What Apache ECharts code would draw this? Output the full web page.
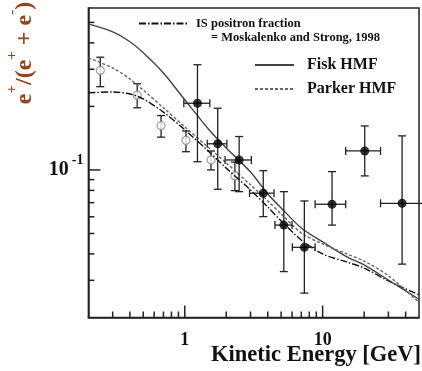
<!DOCTYPE html>
<html>
<head>
<meta charset="utf-8">
<script src="https://cdn.jsdelivr.net/npm/echarts@6/dist/echarts.min.js"></script>
<style>html,body{margin:0;padding:0;background:#fff;}#c{width:422px;height:371px;}</style>
</head>
<body>
<div id="c"></div>
<script>
// ---- data ----
const energies = [0.2, 0.3, 0.4, 0.5, 0.7, 1, 1.5, 2, 3, 4, 5, 7, 10, 15, 20, 30, 50];
const fiskHMF   = [0.492, 0.451, 0.405, 0.359, 0.288, 0.215, 0.155, 0.127, 0.0978, 0.0769, 0.0661, 0.0531, 0.0456, 0.0387, 0.0355, 0.0301, 0.0244];
const parkerHMF = [0.340, 0.304, 0.270, 0.239, 0.197, 0.160, 0.127, 0.108, 0.0849, 0.0713, 0.0619, 0.0503, 0.0446, 0.0400, 0.0370, 0.0315, 0.0236];
const isFraction = [0.232, 0.234, 0.229, 0.217, 0.188, 0.155, 0.122, 0.102, 0.0804, 0.0668, 0.0573, 0.0466, 0.0400, 0.0366, 0.0343, 0.0298, 0.0256];

const openE  = [0.244, 0.452, 0.673, 1.02, 1.55, 2.31];
const openF  = [0.296, 0.226, 0.162, 0.138, 0.1115, 0.0937];
const openLo = [0.248, 0.197, 0.143, 0.122, 0.100, 0.0798];
const openHi = [0.342, 0.256, 0.181, 0.153, 0.123, 0.109];

const filledE   = [1.236, 1.734, 2.48, 3.71, 5.23, 7.37, 11.7, 20.2, 37.7];
const filledF   = [0.207, 0.133, 0.1115, 0.0776, 0.0548, 0.0430, 0.0688, 0.123, 0.0695];
const filledLo  = [0.1094, 0.0810, 0.0789, 0.0601, 0.0330, 0.0261, 0.0548, 0.0937, 0.0358];
const filledHi  = [0.315, 0.196, 0.144, 0.0992, 0.0789, 0.0713, 0.0982, 0.1616, 0.145];
const filledELo = [0.984, 1.456, 1.96, 2.95, 4.51, 6.03, 8.82, 14.7, 26.3];
const filledEHi = [1.52, 2.02, 3.04, 4.44, 6.0, 8.82, 14.7, 26.3, 60];

const xMajorTicks = [1, 10];
const xMinorTicks = [0.3, 0.4, 0.5, 0.6, 0.7, 0.8, 0.9, 2, 3, 4, 5, 6, 7, 8, 9, 20, 30, 40];
const yMajorTicks = [0.1];
const yMinorTicks = [0.03, 0.04, 0.05, 0.06, 0.07, 0.08, 0.09, 0.2, 0.3, 0.4, 0.5];

const X_MIN = 0.2, X_MAX = 50, Y_MIN = 0.02, Y_MAX = 0.585;

// ---- chart ----
const SERIF = '"Liberation Serif", "DejaVu Serif", serif';
const chart = echarts.init(document.getElementById('c'), null, {renderer: 'canvas'});

function errRender(params, api) {
  const x = api.value(0), y = api.value(1);
  const c = api.coord([x, y]);
  const pLo = api.coord([x, api.value(2)]);
  const pHi = api.coord([x, api.value(3)]);
  const st = {stroke: '#222', lineWidth: 1.3};
  const ch = [
    {type: 'line', shape: {x1: c[0], y1: pLo[1], x2: c[0], y2: pHi[1]}, style: st},
    {type: 'line', shape: {x1: c[0] - 4, y1: pLo[1], x2: c[0] + 4, y2: pLo[1]}, style: st},
    {type: 'line', shape: {x1: c[0] - 4, y1: pHi[1], x2: c[0] + 4, y2: pHi[1]}, style: st}
  ];
  const xlo = api.value(4), xhi = api.value(5);
  if (!isNaN(xlo) && !isNaN(xhi)) {
    const l = api.coord([xlo, y]), r = api.coord([xhi, y]);
    ch.push({type: 'line', shape: {x1: l[0], y1: c[1], x2: r[0], y2: c[1]}, style: st});
    ch.push({type: 'line', shape: {x1: l[0], y1: c[1] - 4, x2: l[0], y2: c[1] + 4}, style: st});
    ch.push({type: 'line', shape: {x1: r[0], y1: c[1] - 4, x2: r[0], y2: c[1] + 4}, style: st});
  }
  return {type: 'group', children: ch};
}

function xTickRender(params, api) {
  const cs = params.coordSys;
  const px = api.coord([api.value(0), 0.1])[0];
  const len = api.value(2) ? 12 : 6;
  const yb = cs.y + cs.height;
  return {type: 'line', shape: {x1: px, y1: yb, x2: px, y2: yb - len}, style: {stroke: '#222', lineWidth: 1.5}};
}
function yTickRender(params, api) {
  const cs = params.coordSys;
  const py = api.coord([1, api.value(1)])[1];
  const len = api.value(2) ? 12 : 6;
  return {type: 'line', shape: {x1: cs.x, y1: py, x2: cs.x + len, y2: py}, style: {stroke: '#222', lineWidth: 1.5}};
}

const isPow10 = v => Math.abs(Math.log10(v) - Math.round(Math.log10(v))) < 1e-6;
const legendCommon = {padding: 0, itemHeight: 14, itemStyle: {opacity: 0}, selectedMode: false};

const option = {
  animation: false,
  backgroundColor: '#fff',
  grid: {left: 88.4, right: -4.6, top: 8, bottom: 53.5, show: true, borderColor: '#222', borderWidth: 1.5, backgroundColor: 'transparent'},
  xAxis: {
    type: 'log', min: X_MIN, max: X_MAX, logBase: 10,
    axisLine: {show: true, lineStyle: {color: '#222', width: 1.5}},
    axisTick: {show: false}, splitLine: {show: false}, minorTick: {show: false},
    axisLabel: {
      margin: 14, color: '#111', fontFamily: SERIF, fontWeight: 'bold', fontSize: 18,
      formatter: v => (isPow10(v) && (Math.round(v) === 1 || Math.round(v) === 10)) ? String(Math.round(v)) : ''
    }
  },
  yAxis: {
    type: 'log', min: Y_MIN, max: Y_MAX, logBase: 10,
    axisLine: {show: true, lineStyle: {color: '#222', width: 1.5}},
    axisTick: {show: false}, splitLine: {show: false}, minorTick: {show: false},
    axisLabel: {
      margin: 5,
      formatter: v => (isPow10(v) && Math.abs(v - 0.1) < 1e-9) ? '{b|10}{s|-1}' : '',
      rich: {
        b: {fontFamily: SERIF, fontWeight: 'bold', fontSize: 20, color: '#111', lineHeight: 34, verticalAlign: 'middle'},
        s: {fontFamily: SERIF, fontWeight: 'bold', fontSize: 14, color: '#111', lineHeight: 14, verticalAlign: 'top', padding: [0, 0, 0, 3]}
      }
    }
  },
  legend: [
    Object.assign({data: ['IS positron fraction'], left: 138, top: 17, itemWidth: 50,
     textStyle: {fontFamily: SERIF, fontWeight: 'bold', fontSize: 12.5, color: '#111', padding: [0, 0, 0, 2]}}, legendCommon),
    Object.assign({data: ['Fisk HMF'], left: 254, top: 57, itemWidth: 39,
     textStyle: {fontFamily: SERIF, fontWeight: 'bold', fontSize: 16, color: '#111', padding: [0, 0, 0, 8]}}, legendCommon),
    Object.assign({data: ['Parker HMF'], left: 254, top: 81, itemWidth: 39,
     textStyle: {fontFamily: SERIF, fontWeight: 'bold', fontSize: 16, color: '#111', padding: [0, 0, 0, 8]}}, legendCommon)
  ],
  graphic: [
    {type: 'text', x: 211, y: 38, silent: true,
     style: {text: '= Moskalenko and Strong, 1998', font: 'bold 12.5px ' + SERIF, fill: '#111', verticalAlign: 'middle'}},
    {type: 'text', x: 421, y: 355, silent: true,
     style: {text: 'Kinetic Energy [GeV]', font: 'bold 22.5px ' + SERIF, fill: '#111', align: 'right', verticalAlign: 'middle'}},
    {type: 'text', x: 25, y: 53, rotation: Math.PI / 2, silent: true,
     style: {
       text: '{m|e}{s|+}{m|/(e}{s|+}{m| + e}{s|-}{m|)}',
       align: 'center', verticalAlign: 'middle',
       rich: {
         m: {fontFamily: SERIF, fontWeight: 'bold', fontSize: 24, fill: '#96431b', lineHeight: 40, verticalAlign: 'middle'},
         s: {fontFamily: SERIF, fontWeight: 'bold', fontSize: 15, fill: '#96431b', lineHeight: 15, verticalAlign: 'top'}
       }
     }}
  ],
  series: [
    {type: 'custom', name: 'xticks', silent: true, z: 5, renderItem: xTickRender,
     data: xMinorTicks.map(v => [v, 0.1, 0]).concat(xMajorTicks.map(v => [v, 0.1, 1]))},
    {type: 'custom', name: 'yticks', silent: true, z: 5, renderItem: yTickRender,
     data: yMinorTicks.map(v => [1, v, 0]).concat(yMajorTicks.map(v => [1, v, 1]))},
    {type: 'custom', name: 'openErr', silent: true, z: 2, renderItem: errRender,
     data: openE.map((e, i) => [e, openF[i], openLo[i], openHi[i], NaN, NaN])},
    {type: 'scatter', name: 'open', silent: true, z: 2, symbol: 'circle', symbolSize: 8,
     itemStyle: {color: '#fff', borderColor: '#888', borderWidth: 1.2},
     data: openE.map((e, i) => [e, openF[i]])},
    {type: 'line', name: 'IS positron fraction', silent: true, z: 3, symbol: 'none', smooth: 0.3,
     itemStyle: {color: 'rgba(0,0,0,0)'},
     lineStyle: {color: '#111', width: 1.4, type: [7, 2, 1.5, 2]},
     data: energies.map((e, i) => [e, isFraction[i]])},
    {type: 'line', name: 'Fisk HMF', silent: true, z: 3, symbol: 'none', smooth: 0.3,
     itemStyle: {color: 'rgba(0,0,0,0)'},
     lineStyle: {color: '#444', width: 1.4, type: 'solid'},
     data: energies.map((e, i) => [e, fiskHMF[i]])},
    {type: 'line', name: 'Parker HMF', silent: true, z: 3, symbol: 'none', smooth: 0.3,
     itemStyle: {color: 'rgba(0,0,0,0)'},
     lineStyle: {color: '#666', width: 1.4, type: [3, 2]},
     data: energies.map((e, i) => [e, parkerHMF[i]])},
    {type: 'custom', name: 'filledErr', silent: true, z: 4, renderItem: errRender,
     data: filledE.map((e, i) => [e, filledF[i], filledLo[i], filledHi[i], filledELo[i], filledEHi[i]])},
    {type: 'scatter', name: 'filled', silent: true, z: 4, symbol: 'circle', symbolSize: 9,
     itemStyle: {color: '#000'},
     data: filledE.map((e, i) => [e, filledF[i]])}
  ]
};
chart.setOption(option);
</script>
</body>
</html>
